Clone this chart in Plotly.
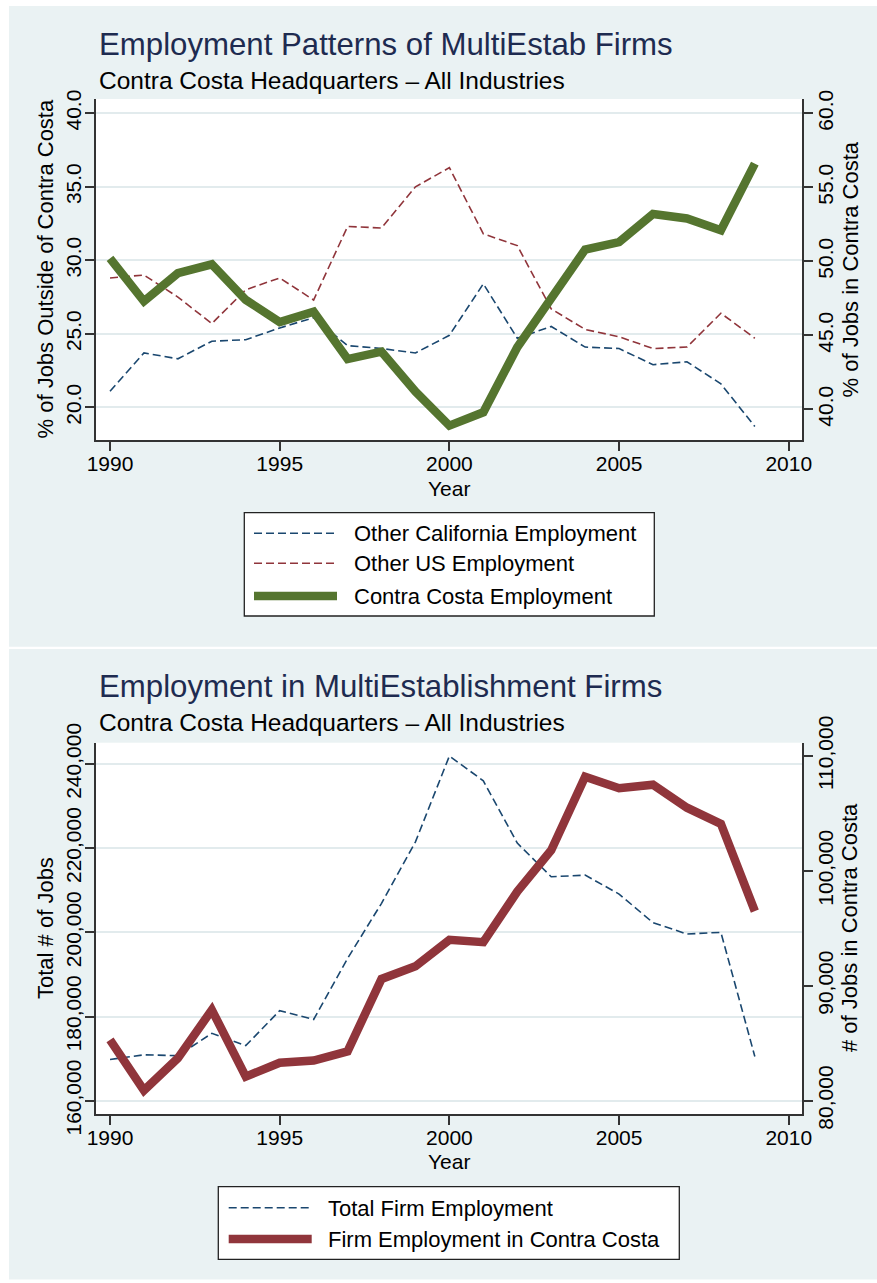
import plotly.graph_objects as go

# ---------------- data ----------------
years = [1990, 1991, 1992, 1993, 1994, 1995, 1996, 1997, 1998, 1999,
         2000, 2001, 2002, 2003, 2004, 2005, 2006, 2007, 2008, 2009]

other_ca_pct = [21.1, 23.7, 23.3, 24.5, 24.6, 25.4, 26.1, 24.2, 24.0, 23.7,
                24.9, 28.4, 24.7, 25.5, 24.1, 24.0, 22.9, 23.1, 21.6, 18.7]
other_us_pct = [28.8, 29.0, 27.5, 25.7, 28.0, 28.8, 27.3, 32.3, 32.2, 35.0,
                36.3, 31.8, 31.0, 26.7, 25.3, 24.8, 24.0, 24.1, 26.4, 24.7]
contra_pct = [50.2, 47.3, 49.2, 49.8, 47.4, 45.9, 46.6, 43.4, 43.9, 41.2,
              38.9, 39.8, 44.2, 47.6, 50.8, 51.3, 53.2, 52.9, 52.1, 56.6]

total_jobs = [169800, 170900, 170700, 176000, 173100, 181400, 179300, 193800, 206900, 221500,
              241900, 236000, 221200, 213200, 213600, 209100, 202300, 199600, 200000, 170500]
contra_jobs = [85300, 80900, 83700, 87900, 82100, 83300, 83500, 84300, 90600, 91700,
               94000, 93800, 98200, 101800, 108200, 107200, 107500, 105500, 104100, 96500]

x_ticks = [1990, 1995, 2000, 2005, 2010]
top_left_ticks = [20, 25, 30, 35, 40]
top_right_ticks = [40, 45, 50, 55, 60]
bot_left_ticks = [160000, 180000, 200000, 220000, 240000]
bot_right_ticks = [80000, 90000, 100000, 110000]

top_names = ["Other California Employment", "Other US Employment", "Contra Costa Employment"]
bot_names = ["Total Firm Employment", "Firm Employment in Contra Costa"]

titles = ["Employment Patterns of MultiEstab Firms", "Employment in MultiEstablishment Firms"]
subtitle = "Contra Costa Headquarters \u2013 All Industries"

# ---------------- style ----------------
W, H = 877, 1283
BG = "#EAF2F3"
NAVY = "#1A476F"
MAROON = "#90353B"
GREEN = "#55752F"
AXC = "#333333"
GRID = "#E2EBED"
FONT = "Liberation Sans, Arial, Helvetica, sans-serif"
DASH = "8px,4px"


def X(px):
    return px / W


def Y(py):
    return 1 - py / H


fig = go.Figure()

fig.add_trace(go.Scatter(x=years, y=other_ca_pct, name=top_names[0], mode="lines",
                         line=dict(color=NAVY, width=1.6, dash=DASH), xaxis="x", yaxis="y"))
fig.add_trace(go.Scatter(x=years, y=other_us_pct, name=top_names[1], mode="lines",
                         line=dict(color=MAROON, width=1.6, dash=DASH), xaxis="x", yaxis="y"))
fig.add_trace(go.Scatter(x=years, y=contra_pct, name=top_names[2], mode="lines",
                         line=dict(color=GREEN, width=8.5), xaxis="x", yaxis="y2"))

fig.add_trace(go.Scatter(x=years, y=total_jobs, name=bot_names[0], mode="lines",
                         line=dict(color=NAVY, width=1.6, dash=DASH), xaxis="x2", yaxis="y3"))
fig.add_trace(go.Scatter(x=years, y=contra_jobs, name=bot_names[1], mode="lines",
                         line=dict(color=MAROON, width=8.5), xaxis="x2", yaxis="y4"))

tickfont = dict(family=FONT, size=21, color="black")
common_axis = dict(showline=True, linecolor=AXC, linewidth=1.5, ticks="outside",
                   ticklen=9, tickwidth=1.5, tickcolor=AXC, tickfont=tickfont,
                   zeroline=False, automargin=False)

xdom = [X(96), X(802)]
top_dom = [Y(440), Y(99)]
bot_dom = [Y(1114), Y(742.7)]

fig.update_layout(
    width=W, height=H, autosize=False,
    margin=dict(l=0, r=0, t=0, b=0, pad=0),
    paper_bgcolor=BG, plot_bgcolor="white",
    showlegend=False,
    font=dict(family=FONT, color="black"),
    xaxis=dict(domain=xdom, range=[1989.587, 2010.39], tickvals=x_ticks, anchor="y",
               showgrid=False, ticklabelstandoff=-5, **common_axis),
    yaxis=dict(domain=top_dom, range=[17.78, 40.97], tickvals=top_left_ticks, tickformat=".1f",
               tickangle=-90, showgrid=True, gridcolor=GRID, gridwidth=1.5, anchor="x",
               ticklabelstandoff=-4, **common_axis),
    yaxis2=dict(domain=top_dom, range=[37.93, 60.97], tickvals=top_right_ticks, tickformat=".1f",
                tickangle=-90, showgrid=False, overlaying="y", side="right", anchor="x",
                ticklabelstandoff=-5, **common_axis),
    xaxis2=dict(domain=xdom, range=[1989.587, 2010.39], tickvals=x_ticks, anchor="y3",
                showgrid=False, ticklabelstandoff=-5, **common_axis),
    yaxis3=dict(domain=bot_dom, range=[156840, 245061], tickvals=bot_left_ticks,
                tickformat=",d", tickangle=-90, showgrid=True, gridcolor=GRID, gridwidth=1.5,
                anchor="x2", ticklabelstandoff=-4, **common_axis),
    yaxis4=dict(domain=bot_dom, range=[78842, 111157], tickvals=bot_right_ticks,
                tickformat=",d", tickangle=-90, showgrid=False, overlaying="y3", side="right",
                anchor="x2", ticklabelstandoff=-5, **common_axis),
)

shapes = []
# white frame strips around the two panels
for (x0, y0, x1, y1) in [(0, 0, W, 6), (0, 0, 9, H), (0, 646.7, W, 649), (0, 1279.5, W, H)]:
    shapes.append(dict(type="rect", xref="paper", yref="paper", x0=X(x0), x1=X(x1),
                       y0=Y(y1), y1=Y(y0), fillcolor="white", line=dict(width=0), layer="below"))

annotations = []


def text(px, py, s, size, color="black", xanchor="left", angle=0):
    annotations.append(dict(x=X(px), y=Y(py), xref="paper", yref="paper", text=s,
                            showarrow=False, xanchor=xanchor, yanchor="middle",
                            textangle=angle, font=dict(family=FONT, size=size, color=color)))


# titles
text(97, 45, titles[0], 31.2, "#1E2B50")
text(97, 80, subtitle, 24.5)
text(97, 686, titles[1], 31.2, "#1E2B50")
text(97, 722, subtitle, 24.5)

# axis titles
text(449, 488, "Year", 21, xanchor="center")
text(449, 1161, "Year", 21, xanchor="center")
text(45, 269.5, "% of Jobs Outside of Contra Costa", 22, xanchor="center", angle=-90)
text(850, 269.5, "% of Jobs in Contra Costa", 22, xanchor="center", angle=-90)
text(45, 928, "Total # of Jobs", 22, xanchor="center", angle=-90)
text(849, 928, "# of Jobs in Contra Costa", 22, xanchor="center", angle=-90)


def legend(box, rows, sw_x, txt_x, names, styles):
    x0, y0, x1, y1 = box
    shapes.append(dict(type="rect", xref="paper", yref="paper", x0=X(x0), x1=X(x1),
                       y0=Y(y1), y1=Y(y0), fillcolor="white",
                       line=dict(color="#222222", width=1.3)))
    for ry, nm, st in zip(rows, names, styles):
        shapes.append(dict(type="line", xref="paper", yref="paper", x0=X(sw_x[0]), x1=X(sw_x[1]),
                           y0=Y(ry), y1=Y(ry), line=st))
        text(txt_x, ry + 0.5, nm, 22)


legend((244.3, 512.7, 654.3, 616), [533.3, 563.3, 596], (254, 337), 351.5, top_names,
       [dict(color=NAVY, width=1.6, dash=DASH), dict(color=MAROON, width=1.6, dash=DASH),
        dict(color=GREEN, width=8.5)])
legend((218.3, 1186.7, 679.3, 1259.3), [1207.7, 1239], (228.7, 311.7), 326, bot_names,
       [dict(color=NAVY, width=1.6, dash=DASH), dict(color=MAROON, width=8.5)])

fig.update_layout(shapes=shapes, annotations=annotations)
fig.write_html("out.html", config={"displayModeBar": False},
               post_script="document.body.style.margin='0px';document.body.style.padding='0px';")
